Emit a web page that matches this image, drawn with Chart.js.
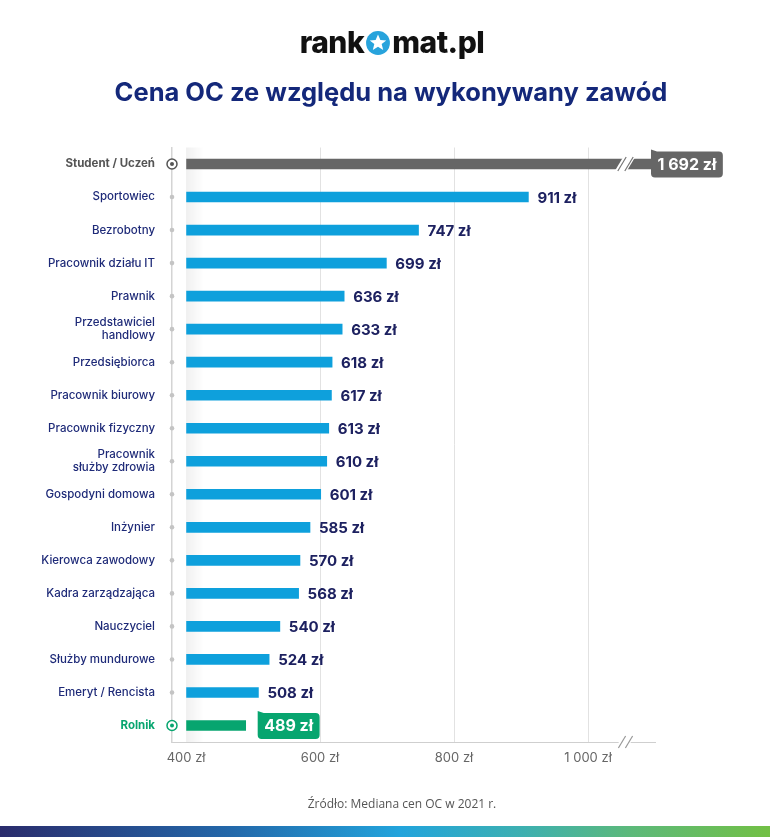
<!DOCTYPE html>
<html lang="pl">
<head>
<meta charset="utf-8">
<script src="https://cdn.jsdelivr.net/npm/chart.js@4.4.1/dist/chart.umd.min.js"></script>
<style>
  html, body { margin: 0; padding: 0; background: #fff; }
  #wrap { position: relative; width: 770px; height: 837px; overflow: hidden; }
  #myChart { position: absolute; left: 0; top: 0; }
  .logo { position: absolute; left: 7px; width: 770px; top: 22px; text-align: center;
    font-family: Inter, "DejaVu Sans", sans-serif; font-weight: 800; font-size: 30px;
    letter-spacing: -0.5px; color: #111; line-height: 40px; }
  .logo svg { vertical-align: -3px; margin: 0 1px; }
  .title { position: absolute; left: 6px; width: 770px; top: 74px; text-align: center;
    font-family: Inter, "Open Sans", sans-serif; font-weight: 700; font-size: 25.5px;
    color: #14287a; line-height: 36px; }
  .source { position: absolute; left: 0; width: 804px; top: 795px; text-align: center;
    font-family: "Open Sans", sans-serif; font-size: 12px; color: #555; }
  .band { position: absolute; left: 0; top: 826px; width: 770px; height: 11px;
    background: linear-gradient(90deg, #2a2c6c 0%, #2368aa 30%, #22a4dc 52%, #3db0b0 68%, #5cb97a 82%, #72c045 100%); }
</style>
</head>
<body>
<div id="wrap">
  <canvas id="myChart" width="770" height="837"></canvas>
  <div class="logo">rank<svg width="26" height="26" viewBox="0 0 24 24"><circle cx="12" cy="12" r="11" fill="#27a3dc"/><polygon fill="#fff" points="12,4.2 14.2,9.3 19.6,9.6 15.4,13 16.8,18.4 12,15.4 7.2,18.4 8.6,13 4.4,9.6 9.8,9.3"/></svg>mat.pl</div>
  <div class="title">Cena OC ze względu na wykonywany zawód</div>
  <div class="source">Źródło: Mediana cen OC w 2021 r.</div>
  <div class="band"></div>
</div>
<script>
const zawody = [
  'Student / Uczeń', 'Sportowiec', 'Bezrobotny', 'Pracownik działu IT', 'Prawnik',
  ['Przedstawiciel', 'handlowy'], 'Przedsiębiorca', 'Pracownik biurowy', 'Pracownik fizyczny',
  ['Pracownik', 'służby zdrowia'], 'Gospodyni domowa', 'Inżynier', 'Kierowca zawodowy',
  'Kadra zarządzająca', 'Nauczyciel', 'Służby mundurowe', 'Emeryt / Rencista', 'Rolnik'
];
const ceny = [1692, 911, 747, 699, 636, 633, 618, 617, 613, 610, 601, 585, 570, 568, 540, 524, 508, 489];
const osX = [400, 600, 800, 1000];

const NAVY = '#1d2160';
const BLUE = '#0ea0dc';
const GREY = '#666666';
const GREEN = '#07a56f';
const last = ceny.length - 1;

function zl(v) {
  return String(v).replace(/\B(?=(\d{3})+(?!\d))/g, ' ') + ' zł';
}

const kolory = ceny.map((v, i) => i === 0 ? GREY : (i === last ? GREEN : BLUE));

function bubble(ctx, x, y, w, h, r) {
  ctx.beginPath();
  ctx.moveTo(x, y - 2);
  ctx.lineTo(x + 6, y);
  ctx.lineTo(x + w - r, y);
  ctx.quadraticCurveTo(x + w, y, x + w, y + r);
  ctx.lineTo(x + w, y + h - r);
  ctx.quadraticCurveTo(x + w, y + h, x + w - r, y + h);
  ctx.lineTo(x + r, y + h);
  ctx.quadraticCurveTo(x, y + h, x, y + h - r);
  ctx.closePath();
  ctx.fill();
}

function breakMark(ctx, x, y, half, color) {
  // white gap with two slashes
  ctx.save();
  ctx.fillStyle = '#fff';
  ctx.beginPath();
  ctx.moveTo(x - 3 - half * 0.6, y + half);
  ctx.lineTo(x - 3 + half * 0.6, y - half);
  ctx.lineTo(x + 9 + half * 0.6, y - half);
  ctx.lineTo(x + 9 - half * 0.6, y + half);
  ctx.closePath();
  ctx.fill();
  ctx.strokeStyle = color;
  ctx.lineWidth = 1.2;
  [x, x + 7].forEach(sx => {
    ctx.beginPath();
    ctx.moveTo(sx - (half + 1) * 0.6, y + half + 1);
    ctx.lineTo(sx + (half + 1) * 0.6, y - half - 1);
    ctx.stroke();
  });
  ctx.restore();
}

const extras = {
  id: 'extras',
  beforeDatasetsDraw(chart) {
    const { ctx, chartArea: a, scales: { x } } = chart;
    const x0 = x.getPixelForValue(400);
    const g = ctx.createLinearGradient(x0, 0, x0 + 18, 0);
    g.addColorStop(0, 'rgba(0,0,0,0.06)');
    g.addColorStop(1, 'rgba(0,0,0,0)');
    ctx.save();
    ctx.fillStyle = g;
    ctx.fillRect(x0, a.top, 18, a.bottom - a.top);
    ctx.restore();
  },
  afterDatasetsDraw(chart) {
    const { ctx, chartArea: a, scales: { x, y } } = chart;
    const meta = chart.getDatasetMeta(0);
    ctx.save();
    // axis markers
    ceny.forEach((v, i) => {
      const py = y.getPixelForValue(i);
      if (i === 0 || i === last) {
        const c = i === 0 ? '#555' : GREEN;
        ctx.fillStyle = '#fff';
        ctx.strokeStyle = c;
        ctx.lineWidth = 1.5;
        ctx.beginPath(); ctx.arc(a.left, py, 5, 0, Math.PI * 2); ctx.fill(); ctx.stroke();
        ctx.fillStyle = c;
        ctx.beginPath(); ctx.arc(a.left, py, 2, 0, Math.PI * 2); ctx.fill();
      } else {
        ctx.fillStyle = '#c4c4c4';
        ctx.beginPath(); ctx.arc(a.left, py, 2.3, 0, Math.PI * 2); ctx.fill();
      }
    });
    // breaks
    breakMark(ctx, 622, y.getPixelForValue(0), 6, '#777');
    breakMark(ctx, 622, a.bottom, 5, '#999');
    // value labels
    ceny.forEach((v, i) => {
      const bar = meta.data[i];
      const py = bar.y;
      ctx.textBaseline = 'middle';
      ctx.textAlign = 'left';
      if (i === 0 || i === last) {
        ctx.font = 'bold 16px Inter, sans-serif';
        const t = zl(v);
        const w = ctx.measureText(t).width + 13;
        const bx = i === 0 ? 651 : bar.x + 12;
        ctx.fillStyle = i === 0 ? GREY : GREEN;
        bubble(ctx, bx, py - 12.5, w, 26, 4);
        ctx.fillStyle = '#fff';
        ctx.fillText(t, bx + 6.5, py + 1);
      } else {
        ctx.font = 'bold 15px Inter, sans-serif';
        ctx.fillStyle = NAVY;
        ctx.fillText(zl(v), bar.x + 9, py + 1);
      }
    });
    ctx.restore();
  }
};

new Chart(document.getElementById('myChart'), {
  type: 'bar',
  data: {
    labels: zawody,
    datasets: [{
      data: ceny,
      base: 400,
      backgroundColor: kolory,
      barThickness: 10,
      borderWidth: 0
    }]
  },
  options: {
    indexAxis: 'y',
    responsive: false,
    animation: false,
    devicePixelRatio: 1,
    layout: { padding: { top: 147.5, right: 115, bottom: 0, left: 0 } },
    plugins: { legend: { display: false }, tooltip: { enabled: false } },
    scales: {
      x: {
        min: 379,
        max: 1100,
        afterBuildTicks(scale) { scale.ticks = osX.map(v => ({ value: v })); },
        afterFit(scale) { scale.height = 95; },
        border: { display: true, color: '#cfcfcf', width: 1 },
        grid: {
          drawTicks: false,
          color: c => (c.tick && c.tick.value === 400) ? 'rgba(0,0,0,0)' : '#e2e2e2'
        },
        ticks: {
          padding: 8,
          color: '#666',
          font: { family: 'Inter, sans-serif', size: 13 },
          callback: v => zl(v),
          maxRotation: 0,
          autoSkip: false
        }
      },
      y: {
        afterFit(scale) { scale.width = 172; },
        border: { display: true, color: '#d4d4d4', width: 1.5 },
        grid: { display: false, drawTicks: false },
        ticks: {
          padding: 17,
          autoSkip: false,
          color: c => c.index === 0 ? '#555' : (c.index === last ? GREEN : '#1e2a78'),
          font: c => ({
            family: 'Inter, sans-serif',
            size: 11.5,
            weight: (c.index === 0 || c.index === last) ? 'bold' : '500',
            lineHeight: 1.15
          })
        }
      }
    }
  },
  plugins: [extras]
});
</script>
</body>
</html>
